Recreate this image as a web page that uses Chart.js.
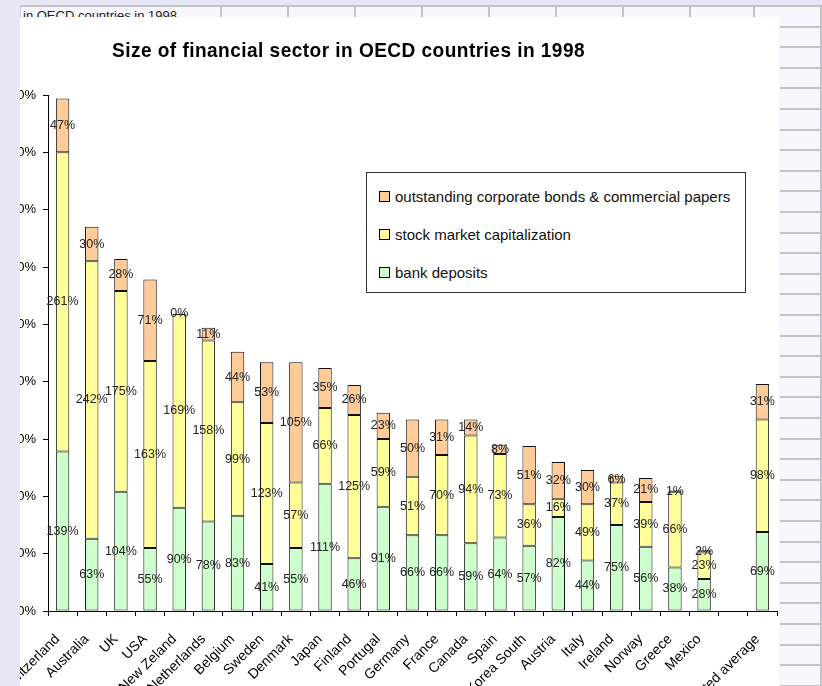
<!DOCTYPE html>
<html>
<head>
<meta charset="utf-8">
<title>Size of financial sector in OECD countries in 1998</title>
<script src="https://cdn.jsdelivr.net/npm/chart.js@4/dist/chart.umd.min.js"></script>
<style>
  body { margin: 0; width: 822px; height: 686px; overflow: hidden; position: relative;
         background: #e6e6f6; font-family: "Liberation Sans", Arial, sans-serif; }
  #sheet { position: absolute; left: 20px; top: 5px; width: 802px; height: 681px; overflow: hidden;
           background: #f6f6fc; border-top: 2px solid #c4c4c4; border-left: 1px solid #cfcfdf; box-sizing: border-box; }
  #rows { position: absolute; left: 759px; top: 0; width: 41px; height: 681px;
          background: repeating-linear-gradient(to bottom, transparent 0 18.6px, #c4c4c4 18.6px 20.6px); }
  .col { position: absolute; top: 0; width: 2px; height: 12px; background: #c4c4c4; }
  #rightEdge { position: absolute; left: 799px; top: 0; width: 2px; height: 681px; background: #c4c4c4; }
  #cellText { position: absolute; left: 2px; top: 1px; font-size: 13px; color: #222; white-space: nowrap; }
  #cellText span { position: absolute; right: 100%; }
  #chartBox { position: absolute; left: 20px; top: 17px; width: 759px; height: 669px; overflow: hidden; background: #fff; }
  #chartBox canvas { position: absolute; left: -20px; top: 0; }
  #title { position: absolute; left: 92px; top: 21px; line-height: 24px; font-size: 21px; font-weight: bold;
           letter-spacing: 0.5px; transform: scaleX(0.908); transform-origin: 0 0; color: #000; white-space: nowrap; }
  #legend { position: absolute; left: 346px; top: 155px; width: 380px; height: 121px; border: 1px solid #333;
            box-sizing: border-box; background: #fff; }
  .item { position: absolute; left: 12px; height: 20px; line-height: 20px; font-size: 15px; color: #111; white-space: nowrap; }
  .swatch { display: inline-block; width: 9px; height: 9px; border: 1px solid #000; margin-right: 5px; vertical-align: 0px; }
</style>
</head>
<body>
<div id="sheet">
  <div id="cellText"><span>Size of financial sector&nbsp;</span>in OECD countries in 1998</div>
  <div id="rows"></div>
  <div id="rightEdge"></div>
</div>
<div id="chartBox">
  <canvas id="finChart" width="779" height="720"></canvas>
  <div id="title">Size of financial sector in OECD countries in 1998</div>
  <div id="legend"></div>
</div>
<script>
// countries, ordered by total size; the blank slot separates the average
const countries = ['Switzerland', 'Australia', 'UK', 'USA', 'New Zeland', 'Netherlands', 'Belgium',
  'Sweden', 'Denmark', 'Japan', 'Finland', 'Portugal', 'Germany', 'France', 'Canada', 'Spain',
  'Korea South', 'Austria', 'Italy', 'Ireland', 'Norway', 'Greece', 'Mexico', '', 'unweighted average'];

// shares of GDP, in percent
const bankDeposits = [139, 63, 104, 55, 90, 78, 83, 41, 55, 111, 46, 91, 66, 66, 59, 64, 57, 82, 44, 75, 56, 38, 28, null, 69];
const stockMarket = [261, 242, 175, 163, 169, 158, 99, 123, 57, 66, 125, 59, 51, 70, 94, 73, 36, 16, 49, 37, 39, 66, 23, null, 98];
const corpBonds = [47, 30, 28, 71, 0, 11, 44, 53, 105, 35, 26, 23, 50, 31, 14, 8, 51, 32, 30, 6, 21, 1, 2, null, 31];

const seriesNames = ['bank deposits', 'stock market capitalization', 'outstanding corporate bonds & commercial papers'];
const seriesColors = ['#ccffcc', '#ffff99', '#ffcc99'];

const yTicks = [0, 50, 100, 150, 200, 250, 300, 350, 400, 450];

// spreadsheet column lines above the chart
[199, 266, 333, 400, 467, 534, 601, 668, 732].forEach(function (x) {
  const d = document.createElement('div');
  d.className = 'col';
  d.style.left = x + 'px';
  document.getElementById('sheet').appendChild(d);
});

// legend, top entry is the top of the stack
const legend = document.getElementById('legend');
[2, 1, 0].forEach(function (s, row) {
  const item = document.createElement('div');
  item.className = 'item';
  item.style.top = (14 + row * 38) + 'px';
  item.innerHTML = '<span class="swatch" style="background:' + seriesColors[s] + '"></span>' + seriesNames[s];
  legend.appendChild(item);
});

// value written in the middle of each stacked segment
const segmentLabels = {
  id: 'segmentLabels',
  afterDatasetsDraw(chart) {
    const ctx = chart.ctx;
    ctx.save();
    ctx.font = '12.5px "Liberation Sans", Arial, sans-serif';
    ctx.fillStyle = '#222';
    ctx.textAlign = 'center';
    ctx.textBaseline = 'middle';
    chart.data.datasets.forEach(function (ds, i) {
      chart.getDatasetMeta(i).data.forEach(function (bar, j) {
        const v = ds.data[j];
        if (v === null) return;
        ctx.fillText(v + '%', bar.x, (bar.y + bar.base) / 2);
      });
    });
    ctx.restore();
  }
};

const datasets = [bankDeposits, stockMarket, corpBonds].map(function (values, i) {
  return {
    label: seriesNames[i],
    data: values,
    backgroundColor: seriesColors[i],
    borderColor: '#111',
    borderWidth: 1,
    borderSkipped: false,
    barPercentage: 0.46,
    categoryPercentage: 1
  };
});

const ctx = document.getElementById('finChart').getContext('2d');
window.finChart = new Chart(ctx, {
  type: 'bar',
  data: { labels: countries, datasets: datasets },
  plugins: [segmentLabels],
  options: {
    responsive: false,
    animation: false,
    layout: { padding: { top: 78, right: 2, left: 0, bottom: 0 } },
    plugins: {
      legend: { display: false },
      title: { display: false },
      tooltip: { enabled: false }
    },
    scales: {
      x: {
        stacked: true,
        grid: { drawOnChartArea: false, color: '#000', tickLength: 5, offset: true },
        border: { color: '#000' },
        ticks: {
          color: '#000',
          font: { size: 14, family: '"Liberation Sans", Arial, sans-serif' },
          maxRotation: 45, minRotation: 45, autoSkip: false, padding: 15, labelOffset: -5
        },
        afterFit: function (scale) {
          // long rotated names may run off the left edge, as they are cut there anyway
          scale.height = 126;
          scale.paddingLeft = 0;
          scale.paddingRight = 0;
        }
      },
      y: {
        stacked: true,
        min: 0,
        max: 450,
        afterBuildTicks: function (scale) { scale.ticks = yTicks.map(function (v) { return { value: v }; }); },
        grid: { drawOnChartArea: false, color: '#000', tickLength: 5 },
        border: { color: '#000' },
        ticks: {
          color: '#000',
          font: { size: 13, family: '"Liberation Sans", Arial, sans-serif' },
          padding: 7,
          callback: function (v) { return v + '%'; }
        },
        afterFit: function (scale) { scale.width = 48; }
      }
    }
  }
});
</script>
</body>
</html>
